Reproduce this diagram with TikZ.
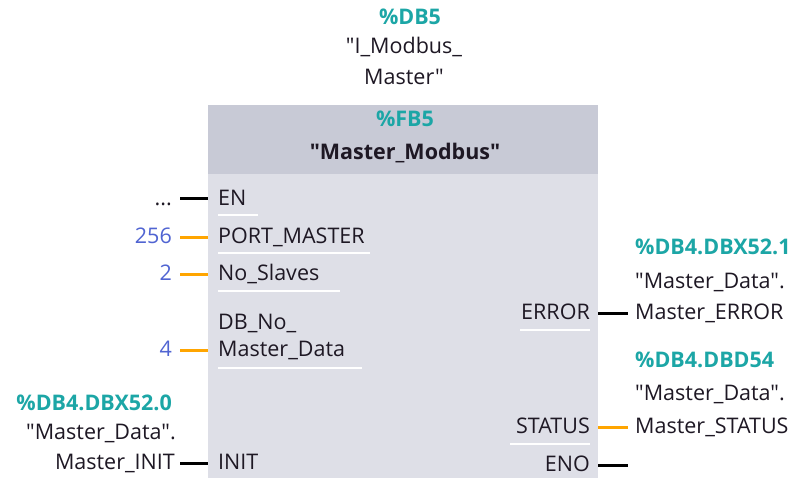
\documentclass[tikz,border=0pt]{standalone}
\usepackage{fontspec}
\setmainfont{Open Sans}[Ligatures=TeXOff]
\definecolor{addr}{RGB}{28,166,166}
\definecolor{const}{RGB}{80,100,210}
\definecolor{wireorange}{RGB}{255,165,0}
\definecolor{headgray}{RGB}{200,202,214}
\definecolor{bodygray}{RGB}{222,223,231}
\definecolor{ink}{RGB}{30,24,36}
\newcommand{\dq}{\char34\relax}
\tikzset{
  txt/.style={inner sep=0pt, text height=16pt, text depth=4pt, font=\fontsize{21.5}{25}\selectfont, text=ink},
  addrtxt/.style={txt, text=addr, font=\fontsize{21.5}{25}\selectfont\bfseries},
  consttxt/.style={txt, text=const},
  boolwire/.style={line width=3pt, draw=black},
  wordwire/.style={line width=3pt, draw=wireorange},
  inwire/.style={shorten <=8pt, shorten >=10pt},
  outwire/.style={shorten <=8pt, shorten >=7pt},
  sep/.style={draw=white, line width=1.5pt},
}
\begin{document}
\begin{tikzpicture}[x=1pt,y=-1pt]
\useasboundingbox (0,0) rectangle (799,478);
\fill[white] (0,0) rectangle (799,478);

% instance data block
\node[addrtxt] (idb) at (410,19) {\%DB5};
\node[txt] (idb1) at (404,48) {\dq I\_Modbus\_};
\node[txt] (idb2) at (404,79) {Master\dq};

% block body and header
\fill[bodygray] (208,105) rectangle (598,479);
\fill[headgray] (208,105) rectangle (598,174);
\node[addrtxt] (fb) at (405,121) {\%FB5};
\node[txt, font=\fontsize{21.5}{25}\selectfont\bfseries] (fbname) at (405,154) {\dq Master\_Modbus\dq};

% input pins
\node[txt, anchor=west] (en) at (218,199) {EN};
\node[txt, anchor=west] (port) at (218,237) {PORT\_MASTER};
\node[txt, anchor=west] (slaves) at (218,274) {No\_Slaves};
\node[txt, anchor=west] (dbno1) at (218,323) {DB\_No\_};
\node[txt, anchor=west] (dbno) at (218,350) {Master\_Data};
\node[txt, anchor=west] (init) at (218,463) {INIT};

\draw[sep] (218,215) -- (258,215);
\draw[sep] (218,253) -- (370,253);
\draw[sep] (218,291) -- (340,291);
\draw[sep] (218,368) -- (362,368);

% output pins
\node[txt, anchor=east] (error) at (590,313) {ERROR};
\node[txt, anchor=east] (status) at (590,427) {STATUS};
\node[txt, anchor=east] (eno) at (590,465) {ENO};
\draw[sep] (520,330) -- (590,330);
\draw[sep] (510,444) -- (590,444);

% input actual parameters
\node[txt, anchor=east] (enval) at (172,199) {...};
\node[consttxt, anchor=east] (portval) at (172,237) {256};
\node[consttxt, anchor=east] (slavesval) at (172,274) {2};
\node[consttxt, anchor=east] (dbnoval) at (172,350) {4};
\node[addrtxt, anchor=east] (initaddr) at (172,404) {\%DB4.DBX52.0};
\node[txt, anchor=east] (initq) at (176,433) {\dq Master\_Data\dq.};
\node[txt, anchor=east] (initval) at (175,463) {Master\_INIT};

% output actual parameters
\node[addrtxt, anchor=west] (erraddr) at (635,248) {\%DB4.DBX52.1};
\node[txt, anchor=west] (errq) at (635,282) {\dq Master\_Data\dq.};
\node[txt, anchor=west] (errval) at (635,313) {Master\_ERROR};
\node[addrtxt, anchor=west] (staddr) at (635,361) {\%DB4.DBD54};
\node[txt, anchor=west] (stq) at (635,394) {\dq Master\_Data\dq.};
\node[txt, anchor=west] (stval) at (635,427) {Master\_STATUS};
\coordinate (enoend) at (628,465);

% wiring
\draw[boolwire, inwire] (enval.east) -- (en.west);
\draw[wordwire, inwire] (portval.east) -- (port.west);
\draw[wordwire, inwire] (slavesval.east) -- (slaves.west);
\draw[wordwire, inwire] (dbnoval.east) -- (dbno.west);
\draw[boolwire, shorten <=5pt, shorten >=10pt] (initval.east) -- (init.west);
\draw[boolwire, outwire] (error.east) -- (errval.west);
\draw[wordwire, outwire] (status.east) -- (stval.west);
\draw[boolwire, shorten <=8pt] (eno.east) -- (enoend);
\end{tikzpicture}
\end{document}
